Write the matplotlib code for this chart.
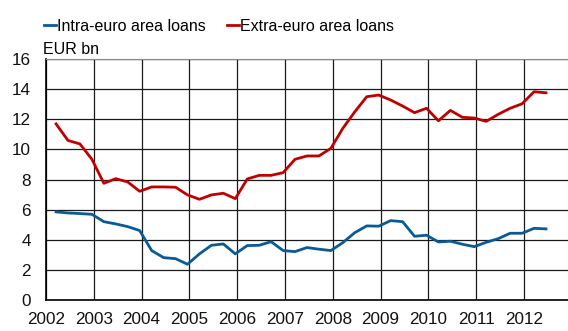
import numpy as np
import matplotlib.pyplot as plt

plt.rcParams['font.family'] = ['Liberation Sans', 'DejaVu Sans']

# quarterly observations, 2002Q1 .. 2012Q2
years = [y for y in range(2002, 2013) for _ in range(4)][:42]
quarters = [1, 2, 3, 4] * 11
quarters = quarters[:42]

intra = [5.85, 5.78, 5.74, 5.69, 5.20, 5.05, 4.87, 4.61, 3.28, 2.81,
         2.74, 2.37, 3.06, 3.63, 3.72, 3.06, 3.61, 3.63, 3.87, 3.28,
         3.21, 3.48, 3.37, 3.28, 3.81, 4.47, 4.92, 4.90, 5.27, 5.20,
         4.23, 4.30, 3.85, 3.90, 3.70, 3.54, 3.83, 4.07, 4.43, 4.43,
         4.76, 4.72]
extra = [11.70, 10.60, 10.37, 9.35, 7.75, 8.06, 7.84, 7.22, 7.51, 7.51,
         7.49, 6.98, 6.69, 6.98, 7.09, 6.73, 8.04, 8.28, 8.28, 8.46,
         9.35, 9.57, 9.57, 10.08, 11.41, 12.51, 13.51, 13.62, 13.29, 12.89,
         12.45, 12.74, 11.91, 12.60, 12.14, 12.09, 11.87, 12.34, 12.74, 13.04,
         13.84, 13.77]

year_ticks = list(range(2002, 2013))
y_ticks = list(range(0, 17, 2))

# each quarter sits a little past the start of its quarter
x = np.array(years) + (np.array(quarters) - 1) / 4 + 0.21

fig = plt.figure(figsize=(5.68, 3.31), dpi=100)
ax = fig.add_axes([0.081, 0.094, 0.919, 0.727])

ax.plot(x, intra, color='#0a5a96', lw=2.0, label='Intra-euro area loans', solid_joinstyle='round')
ax.plot(x, extra, color='#c00000', lw=2.0, label='Extra-euro area loans', solid_joinstyle='round')

ax.set_xlim(2002, 2012.92)
ax.set_ylim(0, 16)
ax.set_xticks(year_ticks)
ax.set_yticks(y_ticks)
ax.tick_params(length=0, labelsize=12.3, colors='#111111')
ax.tick_params(axis='x', pad=9)
ax.tick_params(axis='y', pad=11)

ax.grid(True, color='#1a1a1a', lw=0.9)
ax.set_axisbelow(True)
ax.spines['right'].set_visible(False)
ax.spines['top'].set_color('#888888')
ax.spines['left'].set_color('#000000')
ax.spines['bottom'].set_color('#000000')
ax.spines['left'].set_linewidth(1.2)
ax.spines['bottom'].set_linewidth(1.2)

fig.text(0.076, 0.829, 'EUR bn', fontsize=11.5, ha='left', va='bottom')

fig.legend(loc='center left', bbox_to_anchor=(0.077, 0.92), ncol=2, frameon=False,
           fontsize=11.5, handlelength=0.75, handletextpad=0.1, columnspacing=1.3,
           borderaxespad=0, borderpad=0)

fig.savefig('out.png', dpi=100)
